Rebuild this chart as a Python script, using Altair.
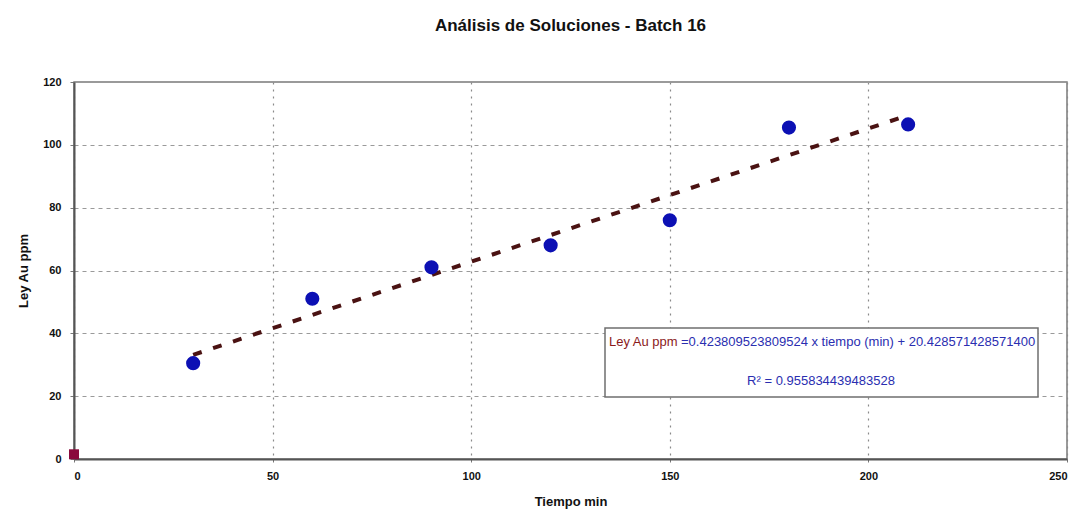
import altair as alt
import pandas as pd

# Sampled solution assays (Batch 16)
tiempo = [30, 60, 90, 120, 150, 180, 210]
ley_au = [30.5, 51, 61, 68, 76, 105.5, 106.5]

# Starting sample at t = 0
tiempo_inicial = [0]
ley_inicial = [1.5]

# Linear trend reported for the series
pendiente = "0.423809523809524"
intercepto = "20.428571428571400"
r2 = "0.955834439483528"
trend_x = [30, 210]

x_ticks = [0, 50, 100, 150, 200, 250]
y_ticks = [0, 20, 40, 60, 80, 100, 120]

W, H = 993, 377

puntos = pd.DataFrame({"tiempo": tiempo, "ley": ley_au})
inicio = pd.DataFrame({"tiempo": tiempo_inicial, "ley": ley_inicial})
tendencia = pd.DataFrame({"tiempo": trend_x})

x_scale = alt.Scale(domain=[0, 250], nice=False)
y_scale = alt.Scale(domain=[0, 120], nice=False)

x_axis = alt.Axis(
    values=x_ticks, title="Tiempo min", grid=True, gridDash=[2, 5],
    gridColor="#8a8a8a", gridWidth=1.2, domainColor="#555555", domainWidth=2,
    tickColor="#777777", tickSize=3, labelPadding=8,
    labelFont="Liberation Sans", labelFontSize=11, labelFontWeight="bold",
    labelColor="#111111", titleFont="Liberation Sans", titleFontSize=13,
    titleFontWeight="bold", titleColor="#111111", titlePadding=14,
)
y_axis = alt.Axis(
    values=y_ticks, title="Ley Au ppm", grid=True, gridDash=[4, 4],
    gridColor="#9a9a9a", gridWidth=1.2, domainColor="#555555", domainWidth=2,
    tickColor="#777777", tickSize=4, labelPadding=9,
    labelFont="Liberation Sans", labelFontSize=11, labelFontWeight="bold",
    labelColor="#111111", titleFont="Liberation Sans", titleFontSize=13,
    titleFontWeight="bold", titleColor="#111111", titlePadding=12,
)

base_x = alt.X("tiempo:Q", scale=x_scale, axis=x_axis)
base_y = alt.Y("ley:Q", scale=y_scale, axis=y_axis)

linea = (
    alt.Chart(tendencia)
    .transform_calculate(ley=f"{pendiente} * datum.tiempo + {intercepto}")
    .mark_line(color="#4a1212", strokeWidth=4, strokeDash=[9, 12], strokeCap="butt")
    .encode(x=base_x, y=base_y)
)

circulos = (
    alt.Chart(puntos)
    .mark_point(shape="circle", filled=True, size=200, color="#0c10b4", opacity=1)
    .encode(x=base_x, y=base_y)
)

cuadro_inicial = (
    alt.Chart(inicio)
    .mark_point(shape="square", filled=True, size=100, color="#8a0a3c", opacity=1)
    .encode(x=base_x, y=base_y)
)

# Equation box
caja = alt.Chart(pd.DataFrame({"k": [0]})).mark_rect(
    fill="white", stroke="#6f6f6f", strokeWidth=1.5
).encode(x=alt.value(531), x2=alt.value(964), y=alt.value(246), y2=alt.value(315))

texto_font = dict(font="Liberation Sans", fontSize=13, baseline="alphabetic")

etiqueta_ley = alt.Chart(pd.DataFrame({"t": ["Ley Au ppm"]})).mark_text(
    color="#8b1a1a", align="left", **texto_font
).encode(x=alt.value(535), y=alt.value(264), text="t:N")

ecuacion = alt.Chart(
    pd.DataFrame({"t": [f"={pendiente} x tiempo (min) + {intercepto}"]})
).mark_text(color="#2a2eb0", align="left", **texto_font).encode(
    x=alt.value(607), y=alt.value(264), text="t:N"
)

r2_texto = alt.Chart(pd.DataFrame({"t": [f"R² = {r2}"]})).mark_text(
    color="#2a2eb0", align="center", **texto_font
).encode(x=alt.value(747), y=alt.value(303), text="t:N")

chart = (
    alt.layer(linea, circulos, cuadro_inicial, caja, etiqueta_ley, ecuacion, r2_texto)
    .properties(
        width=W,
        height=H,
        title=alt.TitleParams(
            "Análisis de Soluciones - Batch 16",
            font="Liberation Sans", fontSize=17, fontWeight="bold",
            color="#111111", anchor="middle", offset=41,
        ),
        padding={"left": 74, "top": 82, "right": 13, "bottom": 51},
        autosize=alt.AutoSizeParams(type="none"),
        background="white",
    )
    .configure_view(stroke="#7a7a7a", strokeWidth=1.5)
)

chart.save("out.html", embed_options={"renderer": "svg", "actions": False})
